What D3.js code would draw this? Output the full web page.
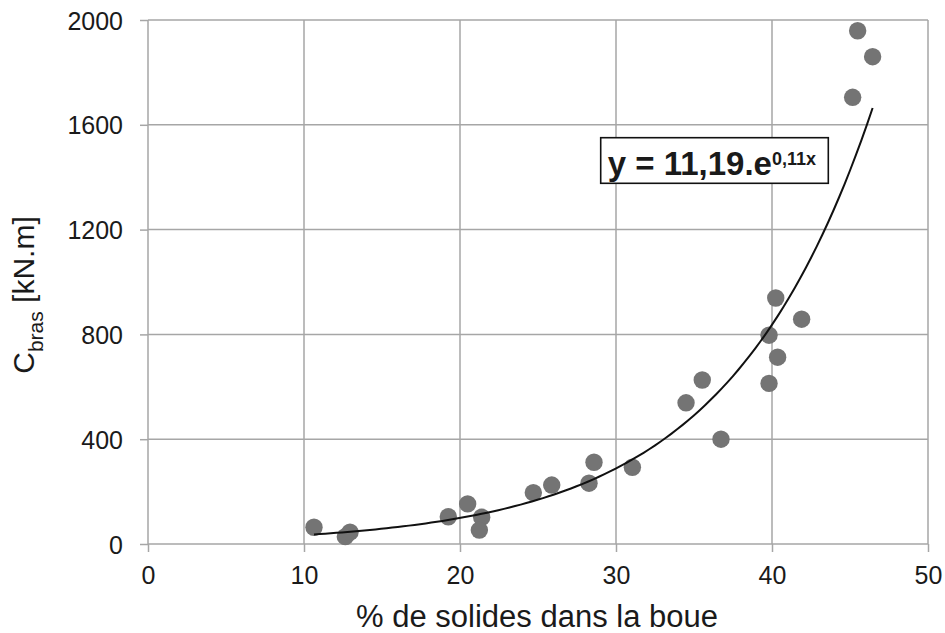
<!DOCTYPE html>
<html>
<head>
<meta charset="utf-8">
<script src="https://cdn.jsdelivr.net/npm/d3@7"></script>
<style>
    body { margin: 0; background: #fff; }
    text { font-family: "Liberation Sans", Arial, sans-serif; fill: #1a1a1a; }
</style>
</head>
<body>
<div id="chart"></div>
<script>
// % solids in sludge (x) and arm torque C_bras in kN.m (y)
var solids = [10.64, 12.65, 12.95, 19.25, 20.49, 21.39, 21.24, 24.7, 25.88, 28.27, 28.59, 31.05,
              34.49, 35.53, 36.73, 40.24, 41.9, 39.81, 40.36, 39.81, 45.49, 46.45, 45.17];
var torque = [64, 28, 45, 104, 153, 102, 53, 196, 225, 232, 312, 293,
              539, 626, 400, 939, 858, 797, 713, 613, 1959, 1860, 1705];

var xTicks = [0, 10, 20, 30, 40, 50];
var yTicks = [0, 400, 800, 1200, 1600, 2000];
var xTitle = "% de solides dans la boue";

var margin = {top: 20, right: 17, bottom: 89, left: 148},
    width = 945 - margin.left - margin.right,
    height = 633 - margin.top - margin.bottom;

var svg = d3.select("#chart").append("svg")
    .attr("width", 945)
    .attr("height", 633)
    .append("g")
    .attr("transform", "translate(" + margin.left + "," + margin.top + ")");

var x = d3.scaleLinear().domain([0, 50]).range([0, width]),
    y = d3.scaleLinear().domain([0, 2000]).range([height, 0]);

var gridColor = "#a6a6a6";

// gridlines + axes (ticks stick out of the plot)
var yAxis = svg.append("g")
    .call(d3.axisLeft(y).tickValues(yTicks).tickFormat(d3.format("d")).tickSize(8).tickPadding(17));
yAxis.selectAll("line").attr("stroke", gridColor).attr("stroke-width", 1.5);
yAxis.selectAll("text").style("font-size", "25px").attr("dy", "0.36em");
yAxis.select(".domain").remove();

var xAxis = svg.append("g")
    .attr("transform", "translate(0," + height + ")")
    .call(d3.axisBottom(x).tickValues(xTicks).tickFormat(d3.format("d")).tickSize(8).tickPadding(14));
xAxis.selectAll("line").attr("stroke", gridColor).attr("stroke-width", 1.5);
xAxis.selectAll("text").style("font-size", "25px");
xAxis.select(".domain").remove();

svg.append("g").selectAll("line")
    .data(yTicks)
    .enter().append("line")
    .attr("x1", 0).attr("x2", width)
    .attr("y1", function (d) { return y(d); })
    .attr("y2", function (d) { return y(d); })
    .attr("stroke", gridColor).attr("stroke-width", 1.5);

svg.append("g").selectAll("line")
    .data(xTicks)
    .enter().append("line")
    .attr("y1", 0).attr("y2", height)
    .attr("x1", function (d) { return x(d); })
    .attr("x2", function (d) { return x(d); })
    .attr("stroke", gridColor).attr("stroke-width", 1.5);

// points
var data = solids.map(function (s, i) { return {x: s, y: torque[i]}; });

svg.selectAll(".dot")
    .data(data)
    .enter().append("circle")
    .attr("class", "dot")
    .attr("cx", function (d) { return x(d.x); })
    .attr("cy", function (d) { return y(d.y); })
    .attr("r", 8.7)
    .attr("fill", "#747474");

// exponential trendline: least squares on ln(y)
var mx = d3.mean(data, function (d) { return d.x; }),
    ml = d3.mean(data, function (d) { return Math.log(d.y); });
var sxy = d3.sum(data, function (d) { return (d.x - mx) * (Math.log(d.y) - ml); }),
    sxx = d3.sum(data, function (d) { return (d.x - mx) * (d.x - mx); });
var b = sxy / sxx,
    a = Math.exp(ml - b * mx);

var x0 = d3.min(solids), x1 = d3.max(solids);
var trend = d3.range(0, 101).map(function (i) {
    var xv = x0 + (x1 - x0) * i / 100;
    return [xv, a * Math.exp(b * xv)];
});

svg.append("path")
    .datum(trend)
    .attr("fill", "none")
    .attr("stroke", "#111")
    .attr("stroke-width", 2)
    .attr("d", d3.line()
        .x(function (d) { return x(d[0]); })
        .y(function (d) { return y(d[1]); }));

// equation label
var eq = svg.append("g").attr("transform", "translate(" + (600.7 - margin.left) + "," + (137.7 - margin.top) + ")");
eq.append("rect")
    .attr("width", 227.6).attr("height", 45.6)
    .attr("fill", "#fff").attr("stroke", "#111").attr("stroke-width", 1.6);
var eqText = eq.append("text")
    .attr("x", 7).attr("y", 37.3)
    .style("font-size", "33px").style("font-weight", "bold");
eqText.append("tspan").text("y = 11,19.e");
eqText.append("tspan").attr("dy", -10).style("font-size", "18px").text("0,11x");

// axis titles
svg.append("text")
    .attr("x", (351 + 723) / 2 - margin.left)
    .attr("y", 627 - margin.top)
    .attr("text-anchor", "middle")
    .style("font-size", "31px")
    .text(xTitle);

var yt = svg.append("text")
    .attr("transform", "translate(" + (33.5 - margin.left) + "," + (295 - margin.top) + ") rotate(-90)")
    .attr("text-anchor", "middle")
    .style("font-size", "30px");
yt.append("tspan").text("C");
yt.append("tspan").attr("dy", 9).style("font-size", "21px").text("bras");
yt.append("tspan").attr("dy", -9).text(" [kN.m]");
</script>
</body>
</html>
